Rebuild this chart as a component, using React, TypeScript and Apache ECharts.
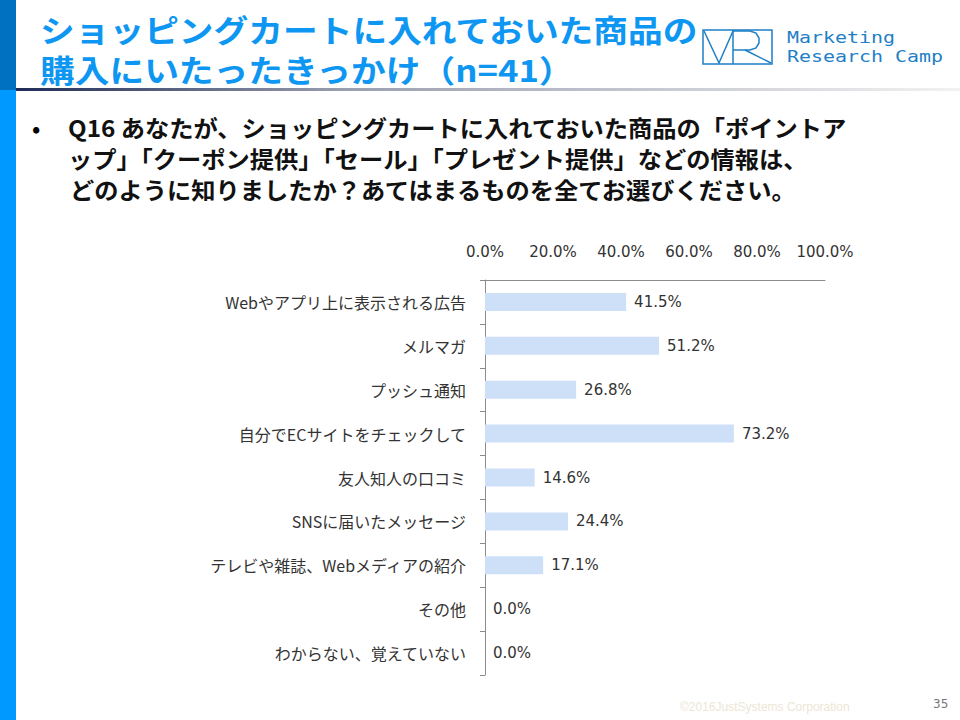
import React, { useEffect, useRef } from "react";
import * as echarts from "echarts";

const categories = [
  "Webやアプリ上に表示される広告",
  "メルマガ",
  "プッシュ通知",
  "自分でECサイトをチェックして",
  "友人知人の口コミ",
  "SNSに届いたメッセージ",
  "テレビや雑誌、Webメディアの紹介",
  "その他",
  "わからない、覚えていない",
];
const values = [41.5, 51.2, 26.8, 73.2, 14.6, 24.4, 17.1, 0.0, 0.0];
const axisTicks = [0, 20, 40, 60, 80, 100];

const titleLines = ["ショッピングカートに入れておいた商品の", "購入にいたったきっかけ（n=41）"];
const questionLines = [
  "Q16 あなたが、ショッピングカートに入れておいた商品の「ポイントア",
  "ップ」「クーポン提供」「セール」「プレゼント提供」などの情報は、",
  "どのように知りましたか？あてはまるものを全てお選びください。",
];

const JP = '"Noto Sans CJK JP", "Noto Sans", sans-serif';
const NUM = '"DejaVu Sans", "Noto Sans", sans-serif';

export default function App() {
  const ref = useRef<HTMLDivElement>(null);
  useEffect(() => {
    const chart = echarts.init(ref.current!, undefined, { renderer: "svg" });
    const logoColor = "#1E7FC6";
    chart.setOption({
      animation: false,
      backgroundColor: "#ffffff",
      grid: { left: 485, top: 280, width: 340, height: 395, containLabel: false },
      xAxis: {
        type: "value",
        position: "top",
        min: axisTicks[0],
        max: axisTicks[axisTicks.length - 1],
        interval: 20,
        axisLine: { show: true, lineStyle: { color: "#8c8c8c", width: 1 } },
        axisTick: { show: false },
        splitLine: { show: false },
        axisLabel: {
          margin: 21,
          fontSize: 15,
          color: "#333333",
          fontFamily: NUM,
          formatter: (v: number) => v.toFixed(1) + "%",
        },
      },
      yAxis: {
        type: "category",
        inverse: true,
        data: categories,
        axisLine: { show: true, lineStyle: { color: "#8c8c8c", width: 1 } },
        axisTick: { show: true, length: 5, lineStyle: { color: "#8c8c8c" } },
        axisLabel: { margin: 19, fontSize: 16, color: "#333333", fontFamily: JP },
      },
      series: [
        {
          type: "bar",
          data: values,
          barWidth: 18,
          itemStyle: { color: "#CDE0F7" },
          label: {
            show: true,
            position: "right",
            distance: 8,
            fontSize: 15,
            color: "#333333",
            fontFamily: NUM,
            formatter: (p: any) => Number(p.value).toFixed(1) + "%",
          },
        },
      ],
      graphic: [
        { type: "rect", shape: { x: 0, y: 0, width: 16, height: 90 }, style: { fill: "#0070C0" } },
        { type: "rect", shape: { x: 0, y: 90, width: 16, height: 630 }, style: { fill: "#0099FF" } },
        {
          type: "rect",
          shape: { x: 16, y: 88, width: 944, height: 3 },
          style: {
            fill: new echarts.graphic.LinearGradient(0, 0, 1, 0, [
              { offset: 0, color: "#1F2B57" },
              { offset: 0.35, color: "#9a9fb0" },
              { offset: 1, color: "#f2f2f2" },
            ]),
          },
        },
        {
          type: "text",
          x: 40,
          y: 28,
          scaleX: 1.12,
          style: {
            text: titleLines[0],
            fill: "#0D96F2",
            font: `bold 31px ${JP}`,
            textVerticalAlign: "middle",
          },
        },
        {
          type: "text",
          x: 40,
          y: 68,
          scaleX: 1.12,
          style: {
            text: titleLines[1],
            fill: "#0D96F2",
            font: `bold 31px ${JP}`,
            textVerticalAlign: "middle",
          },
        },
        {
          type: "rect",
          shape: { x: 703, y: 30, width: 69, height: 34 },
          style: { fill: "none", stroke: logoColor, lineWidth: 1.5 },
        },
        {
          type: "polyline",
          shape: { points: [[704, 31], [719, 63], [733, 31]] },
          style: { stroke: logoColor, lineWidth: 1.5, fill: "none" },
        },
        {
          type: "line",
          shape: { x1: 733, y1: 30, x2: 733, y2: 64 },
          style: { stroke: logoColor, lineWidth: 1.5 },
        },
        {
          type: "polyline",
          shape: { points: [[733, 31], [750, 31], [756, 33], [759, 38], [759, 43], [756, 48], [750, 50], [733, 50]] },
          style: { stroke: logoColor, lineWidth: 1.5, fill: "none" },
        },
        {
          type: "line",
          shape: { x1: 745, y1: 50, x2: 771, y2: 63 },
          style: { stroke: logoColor, lineWidth: 1.5 },
        },
        {
          type: "text",
          x: 787,
          y: 38,
          scaleX: 1.33,
          style: {
            text: "Marketing",
            fill: logoColor,
            font: '15px "DejaVu Sans Mono", monospace',
            textVerticalAlign: "middle",
          },
        },
        {
          type: "text",
          x: 787,
          y: 57,
          scaleX: 1.33,
          style: {
            text: "Research Camp",
            fill: logoColor,
            font: '15px "DejaVu Sans Mono", monospace',
            textVerticalAlign: "middle",
          },
        },
        {
          type: "text",
          x: 32,
          y: 127,
          style: { text: "•", fill: "#000", font: `bold 22px ${JP}`, textVerticalAlign: "middle" },
        },
        ...questionLines.map((t, i) => ({
          type: "text",
          x: i === 2 ? 70 : 68,
          y: [127, 158, 189][i],
          scaleX: 1.055,
          style: { text: t, fill: "#111111", font: `bold 23px ${JP}`, textVerticalAlign: "middle" },
        })),
        {
          type: "text",
          x: 680,
          y: 707,
          style: {
            text: "©2016JustSystems Corporation",
            fill: "#ECE6D6",
            font: '12px "Liberation Sans", Arial, sans-serif',
            textVerticalAlign: "middle",
          },
        },
        {
          type: "text",
          x: 933,
          y: 704,
          style: {
            text: "35",
            fill: "#777777",
            font: '12px "DejaVu Sans", sans-serif',
            textVerticalAlign: "middle",
          },
        },
      ],
    });
    return () => chart.dispose();
  }, []);
  return (
    <div
      ref={ref}
      style={{ position: "fixed", left: 0, top: 0, width: 960, height: 720, background: "#fff" }}
    />
  );
}
